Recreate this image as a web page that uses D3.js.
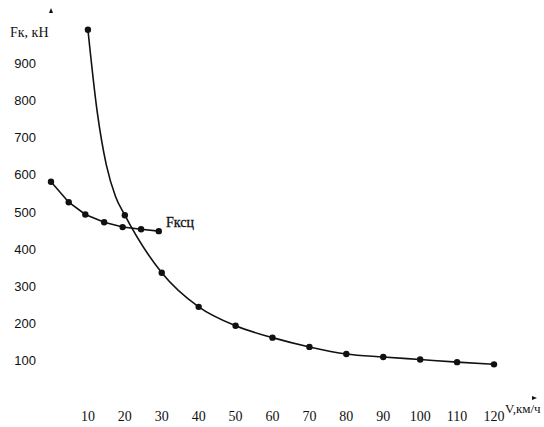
<!DOCTYPE html>
<html>
<head>
<meta charset="utf-8">
<script src="https://cdn.jsdelivr.net/npm/d3@7"></script>
<style>
	body { margin: 0; background: #fff; }
	svg { display: block; }
</style>
</head>
<body>
<div id="chart"></div>
<script>
// traction force Fk (marked points)
const fkSpeeds = [10, 20, 30, 40, 50, 60, 70, 80, 90, 100, 110, 120]
const fkValues = [990, 490, 335, 243, 192, 160, 135, 116, 108, 101, 94, 88]
const fkBendSpeeds = [12.5, 15, 17.5]
const fkBendValues = [770, 625, 540]
// adhesion force Fkсц
const fkscSpeeds = [0, 4.8, 9.3, 14.4, 19.4, 24.4, 29.2]
const fkscValues = [580, 525, 492, 471, 458, 452, 447]
const xTicks = [10, 20, 30, 40, 50, 60, 70, 80, 90, 100, 110, 120]
const yTicks = [100, 200, 300, 400, 500, 600, 700, 800, 900]

const width = 544
const height = 427
const x = d3.scaleLinear().domain([0, 120]).range([51, 494])
const y = d3.scaleLinear().domain([0, 1000]).range([397, 26])

const svg = d3.select("#chart").append("svg")
	.attr("width", width)
	.attr("height", height)

// y tick labels
svg.append("g")
	.selectAll("text")
	.data(yTicks)
	.join("text")
	.attr("x", 36)
	.attr("y", d => y(d) + 5)
	.attr("text-anchor", "end")
	.attr("font-family", "Liberation Sans, sans-serif")
	.attr("font-size", 13)
	.attr("fill", "#111")
	.text(d => d)

// x tick labels
svg.append("g")
	.selectAll("text")
	.data(xTicks)
	.join("text")
	.attr("x", d => x(d))
	.attr("y", 421)
	.attr("text-anchor", "middle")
	.attr("font-family", "Liberation Serif, serif")
	.attr("font-size", 14)
	.attr("fill", "#111")
	.text(d => d)

// axis arrow tips (axis lines themselves are not drawn)
svg.append("path")
	.attr("d", `M${x(0)},${y(1000) - 18} l-2,5 h4 z`)
	.attr("fill", "#111")
svg.append("path")
	.attr("d", `M${x(120) + 43},${y(0) + 1} l-5,-2 v4 z`)
	.attr("fill", "#111")

svg.append("text")
	.attr("x", 10)
	.attr("y", 37)
	.attr("font-family", "Liberation Serif, serif")
	.attr("font-size", 14)
	.attr("fill", "#111")
	.text("Fк, кН")

svg.append("text")
	.attr("x", 505)
	.attr("y", 413)
	.attr("font-family", "Liberation Serif, serif")
	.attr("font-size", 13)
	.attr("fill", "#111")
	.text("V,км/ч")

const fkData = fkSpeeds.map((v, i) => ({ v: v, f: fkValues[i] }))
const fkLineData = fkData.concat(fkBendSpeeds.map((v, i) => ({ v: v, f: fkBendValues[i] })))
	.sort((a, b) => a.v - b.v)
const fkscData = fkscSpeeds.map((v, i) => ({ v: v, f: fkscValues[i] }))

const line = d3.line().x(d => x(d.v)).y(d => y(d.f))

svg.append("path")
	.datum(fkLineData)
	.attr("fill", "none")
	.attr("stroke", "#111")
	.attr("stroke-width", 1.6)
	.attr("d", line.curve(d3.curveMonotoneX))

svg.append("path")
	.datum(fkscData)
	.attr("fill", "none")
	.attr("stroke", "#111")
	.attr("stroke-width", 1.6)
	.attr("d", line.curve(d3.curveLinear))

svg.append("g")
	.selectAll("circle")
	.data(fkData.concat(fkscData))
	.join("circle")
	.attr("cx", d => x(d.v))
	.attr("cy", d => y(d.f))
	.attr("r", 3.2)
	.attr("fill", "#111")

svg.append("text")
	.attr("x", 166)
	.attr("y", 227)
	.attr("font-family", "Liberation Serif, serif")
	.attr("font-size", 14)
	.attr("fill", "#111")
	.attr("stroke", "#111")
	.attr("stroke-width", 0.3)
	.text("Fксц")
</script>
</body>
</html>
